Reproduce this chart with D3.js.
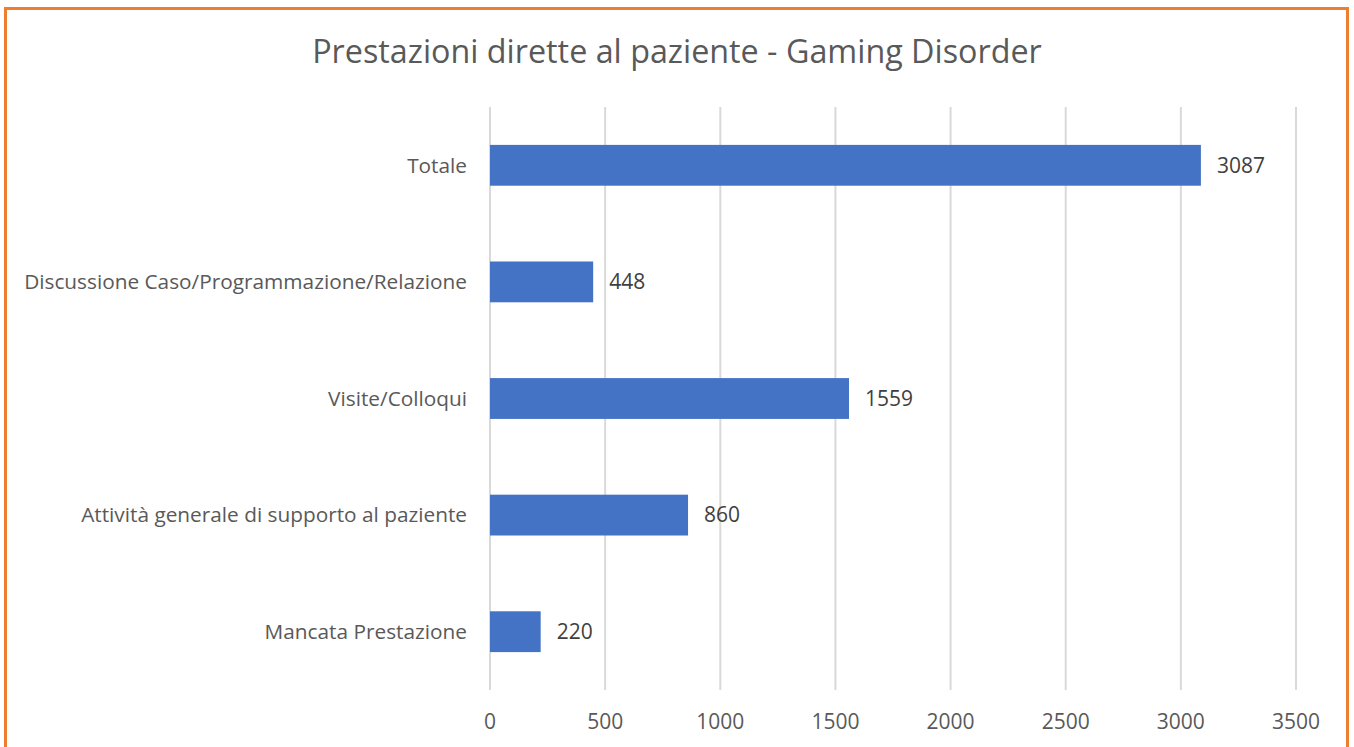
<!DOCTYPE html>
<html><head><meta charset="utf-8">
<script src="https://cdn.jsdelivr.net/npm/d3@7"></script>
<style>body{margin:0;background:#fff;} text{font-family:"Open Sans",sans-serif;}</style>
</head><body>
<svg id="c" width="1354" height="747"></svg>
<script>
const categories = ["Totale","Discussione Caso/Programmazione/Relazione","Visite/Colloqui","Attività generale di supporto al paziente","Mancata Prestazione"];
const values = [3087,448,1559,860,220];
const ticks = [0,500,1000,1500,2000,2500,3000,3500];
const title = "Prestazioni dirette al paziente - Gaming Disorder";

const svg = d3.select("#c");
svg.append("rect").attr("x",5.5).attr("y",8.5).attr("width",1342).attr("height",760)
  .attr("fill","#fff").attr("stroke","#ED7D31").attr("stroke-width",3);

const x = d3.scaleLinear().domain([0,3500]).range([490,1296]);
const y = d3.scaleBand().domain(categories).range([107,690]).paddingInner(0.65).paddingOuter(0.325);

svg.append("g").selectAll("line").data(ticks).join("line")
  .attr("x1",d=>x(d)).attr("x2",d=>x(d)).attr("y1",107).attr("y2",690)
  .attr("stroke","#d9d9d9").attr("stroke-width",2);

svg.append("g").selectAll("rect").data(values).join("rect")
  .attr("x",x(0)).attr("y",(d,i)=>y(categories[i]))
  .attr("width",d=>x(d)-x(0)).attr("height",y.bandwidth()).attr("fill","#4472C4");

svg.append("g").selectAll("text").data(values).join("text")
  .attr("x",d=>x(d)+16).attr("y",(d,i)=>y(categories[i])+y.bandwidth()/2)
  .attr("dy","0.35em").attr("font-size",21).attr("fill","#404040").text(d=>d);

svg.append("g").selectAll("text").data(categories).join("text")
  .attr("x",467).attr("y",d=>y(d)+y.bandwidth()/2).attr("dy","0.35em")
  .attr("text-anchor","end").attr("font-size",20.8).attr("fill","#595959").text(d=>d);

svg.append("g").selectAll("text").data(ticks).join("text")
  .attr("x",d=>x(d)).attr("y",722).attr("dy","0.35em").attr("text-anchor","middle")
  .attr("font-size",21).attr("fill","#595959").text(d=>d);

svg.append("text").attr("x",677).attr("y",52).attr("dy","0.35em").attr("text-anchor","middle")
  .attr("font-size",32.3).attr("fill","#595959").text(title);
</script>
</body></html>
